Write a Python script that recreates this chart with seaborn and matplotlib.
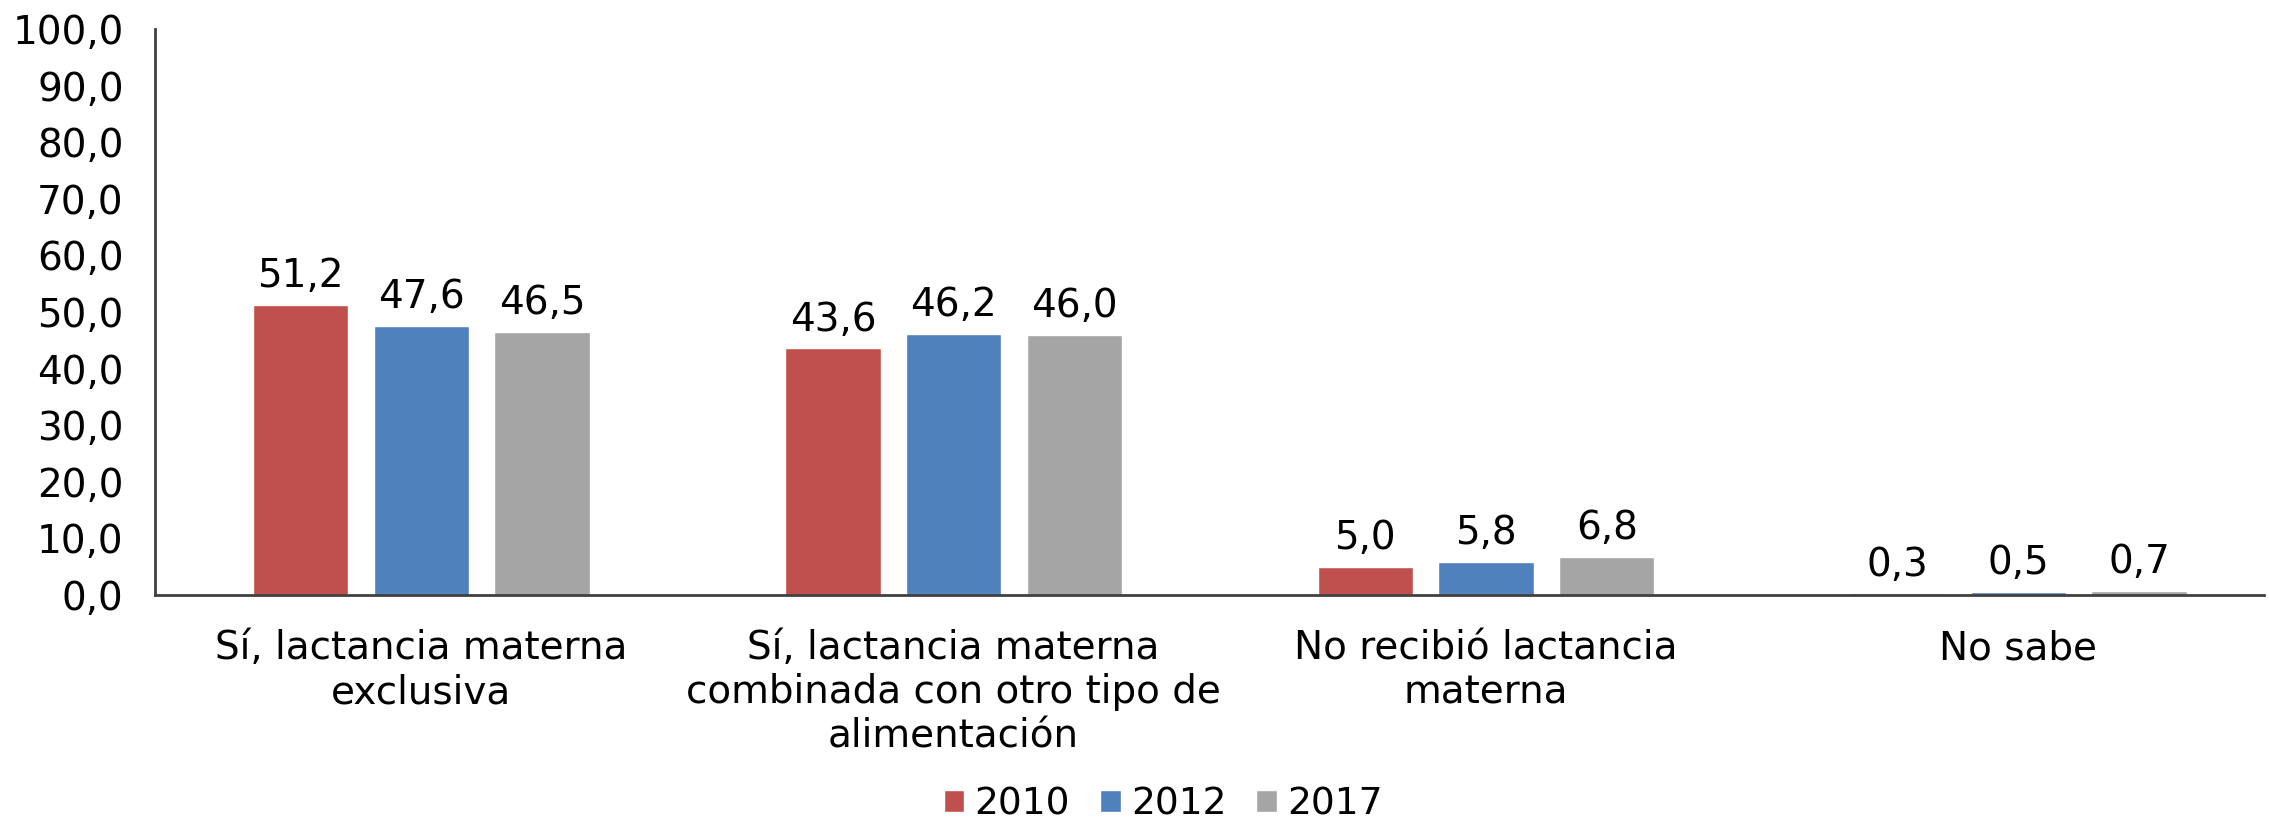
import pandas as pd
import seaborn as sns
import matplotlib.pyplot as plt

# data
categories = [
    "Sí, lactancia materna\nexclusiva",
    "Sí, lactancia materna\ncombinada con otro tipo de\nalimentación",
    "No recibió lactancia\nmaterna",
    "No sabe",
]
years = ["2010", "2012", "2017"]
v2010 = [51.2, 43.6, 5.0, 0.3]
v2012 = [47.6, 46.2, 5.8, 0.5]
v2017 = [46.5, 46.0, 6.8, 0.7]
colors = ["#C0504D", "#4F81BD", "#A5A5A5"]

df = pd.DataFrame({
    "cat": categories * 3,
    "year": [y for y in years for _ in categories],
    "val": v2010 + v2012 + v2017,
})

sns.set_style("white")
plt.rcParams["font.family"] = ["DejaVu Sans"]
plt.rcParams["text.color"] = "black"
plt.rcParams["xtick.color"] = "black"
plt.rcParams["ytick.color"] = "black"

FS = 28

fig = plt.figure(figsize=(22.69, 8.19), dpi=100)
ax = fig.add_axes([0.0683, 0.2735, 0.9297, 0.6911])

sns.barplot(data=df, x="cat", y="val", hue="year", palette=colors,
            width=0.68, gap=0.21, ax=ax, saturation=1)

# comma decimal labels on top of the bars
for cont in ax.containers:
    labels = [f"{b.get_height():.1f}".replace(".", ",") for b in cont]
    ax.bar_label(cont, labels=labels, padding=7, fontsize=FS, color="black")

ax.set_ylim(0, 100)
ax.set_yticks(range(0, 101, 10))
ax.set_yticklabels([f"{t},0" for t in range(0, 101, 10)], fontsize=FS)
ax.tick_params(axis="x", labelsize=FS, pad=21)
ax.tick_params(axis="y", pad=19)
ax.set_xlim(-0.5, 3.462)
ax.set(xlabel="", ylabel="")

sns.despine(ax=ax, top=True, right=True)
for s in ["left", "bottom"]:
    ax.spines[s].set_color("#404040")
    ax.spines[s].set_linewidth(2)

ax.legend(loc="center", bbox_to_anchor=(0.478, -0.37), ncol=3, frameon=False,
          fontsize=27, handlelength=0.55, handleheight=0.55, handletextpad=0.27,
          columnspacing=0.8)

fig.savefig("out.png", dpi=100)
